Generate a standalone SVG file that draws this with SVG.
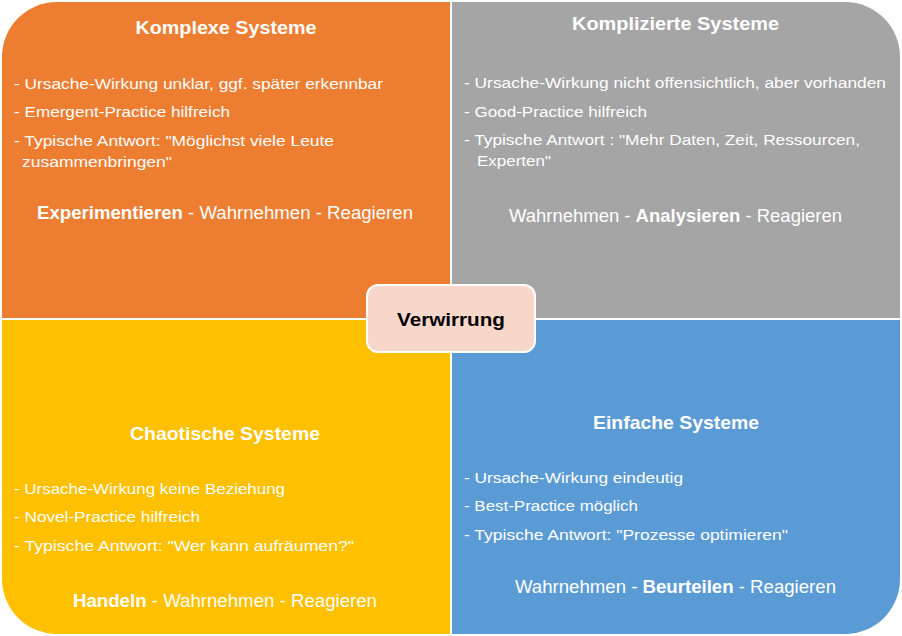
<svg xmlns="http://www.w3.org/2000/svg" width="902" height="636" viewBox="0 0 902 636">
<style>
text{font-family:"Liberation Sans","Open Sans",sans-serif;fill:#fff}
.t{font-size:19px;font-weight:bold;text-anchor:middle}
.b{font-size:15.5px}
.m{font-size:17.5px}
.k{font-weight:bold}
</style>
<rect width="902" height="636" fill="#fff"/>
<g id="komplex">
<path d="M2,57 A55,55 0 0 1 57,2 H450 V318 H2 Z" fill="#ED7D31"/>
<text class="t" x="226" y="34" textLength="181" lengthAdjust="spacingAndGlyphs">Komplexe Systeme</text>
<text class="b" x="14" y="89" textLength="369" lengthAdjust="spacingAndGlyphs">- Ursache-Wirkung unklar, ggf. später erkennbar</text>
<text class="b" x="14" y="117" textLength="216" lengthAdjust="spacingAndGlyphs">- Emergent-Practice hilfreich</text>
<text class="b" x="14" y="146" textLength="320" lengthAdjust="spacingAndGlyphs">- Typische Antwort: "Möglichst viele Leute</text>
<text class="b" x="22" y="167" textLength="150" lengthAdjust="spacingAndGlyphs">zusammenbringen"</text>
<text class="m" x="37" y="219" textLength="376" lengthAdjust="spacingAndGlyphs"><tspan class="k">Experimentieren</tspan> - Wahrnehmen - Reagieren</text>
</g>
<g id="kompliziert">
<path d="M452,2 H845 A55,55 0 0 1 900,57 V318 H452 Z" fill="#A5A5A5"/>
<text class="t" x="675.5" y="30" textLength="207" lengthAdjust="spacingAndGlyphs">Komplizierte Systeme</text>
<text class="b" x="464" y="88" textLength="422" lengthAdjust="spacingAndGlyphs">- Ursache-Wirkung nicht offensichtlich, aber vorhanden</text>
<text class="b" x="464" y="117" textLength="183" lengthAdjust="spacingAndGlyphs">- Good-Practice hilfreich</text>
<text class="b" x="464" y="145" textLength="396" lengthAdjust="spacingAndGlyphs">- Typische Antwort : "Mehr Daten, Zeit, Ressourcen,</text>
<text class="b" x="477" y="166" textLength="74" lengthAdjust="spacingAndGlyphs">Experten"</text>
<text class="m" x="509" y="222" textLength="333" lengthAdjust="spacingAndGlyphs">Wahrnehmen - <tspan class="k">Analysieren</tspan> - Reagieren</text>
</g>
<g id="chaotisch">
<path d="M2,320 H450 V634 H57 A55,55 0 0 1 2,579 Z" fill="#FFC000"/>
<text class="t" x="225" y="440" textLength="190" lengthAdjust="spacingAndGlyphs">Chaotische Systeme</text>
<text class="b" x="14" y="494" textLength="271" lengthAdjust="spacingAndGlyphs">- Ursache-Wirkung keine Beziehung</text>
<text class="b" x="14" y="522" textLength="186" lengthAdjust="spacingAndGlyphs">- Novel-Practice hilfreich</text>
<text class="b" x="14" y="551" textLength="340" lengthAdjust="spacingAndGlyphs">- Typische Antwort: "Wer kann aufräumen?"</text>
<text class="m" x="73" y="607" textLength="304" lengthAdjust="spacingAndGlyphs"><tspan class="k">Handeln</tspan> - Wahrnehmen - Reagieren</text>
</g>
<g id="einfach">
<path d="M452,320 H900 V579 A55,55 0 0 1 845,634 H452 Z" fill="#5B9BD5"/>
<text class="t" x="676" y="429" textLength="166" lengthAdjust="spacingAndGlyphs">Einfache Systeme</text>
<text class="b" x="464" y="483" textLength="219" lengthAdjust="spacingAndGlyphs">- Ursache-Wirkung eindeutig</text>
<text class="b" x="464" y="511" textLength="174" lengthAdjust="spacingAndGlyphs">- Best-Practice möglich</text>
<text class="b" x="464" y="540" textLength="324" lengthAdjust="spacingAndGlyphs">- Typische Antwort: "Prozesse optimieren"</text>
<text class="m" x="515" y="593" textLength="321" lengthAdjust="spacingAndGlyphs">Wahrnehmen - <tspan class="k">Beurteilen</tspan> - Reagieren</text>
</g>
<g id="verwirrung">
<rect x="367" y="285" width="168" height="67" rx="11" fill="#F8D7CB" stroke="#fff" stroke-width="2"/>
<text x="451" y="326" style="fill:#000;font-size:19px;font-weight:bold;text-anchor:middle" textLength="108" lengthAdjust="spacingAndGlyphs">Verwirrung</text>
</g>
</svg>
